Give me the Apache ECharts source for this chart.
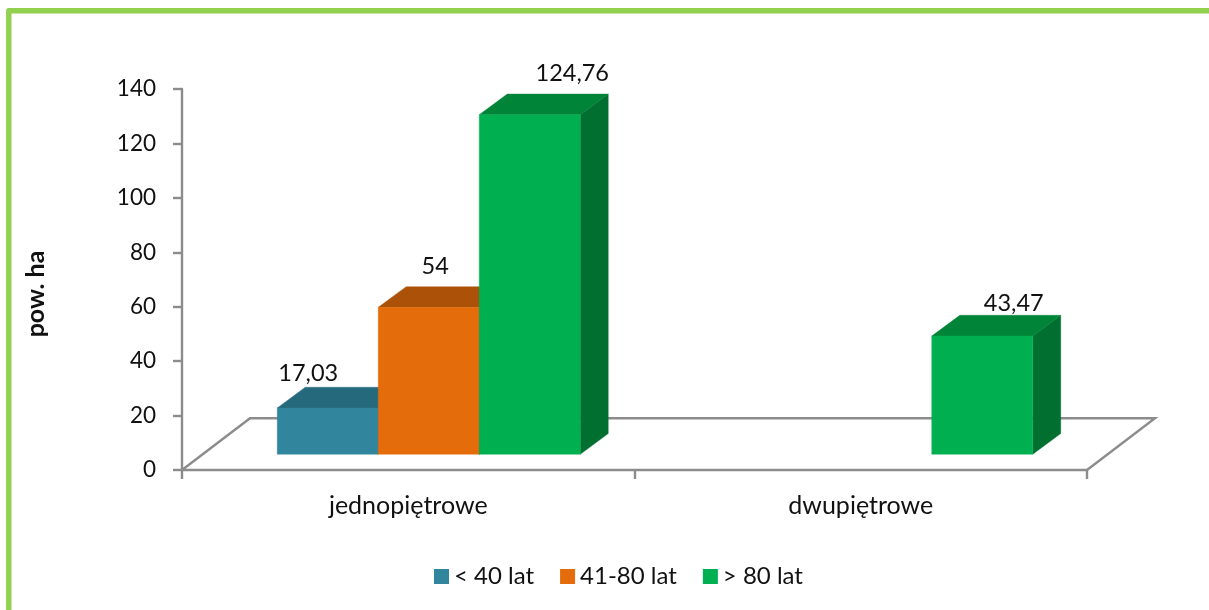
<!DOCTYPE html>
<html>
<head>
<meta charset="utf-8">
<style>html,body{margin:0;padding:0;background:#fff}#c{width:1209px;height:610px}</style>
<script src="https://cdn.jsdelivr.net/npm/echarts@6/dist/echarts.min.js"></script>
</head>
<body>
<div id="c"></div>
<script>
const categories = ['jednopiętrowe', 'dwupiętrowe'];
const seriesNames = ['< 40 lat', '41-80 lat', '> 80 lat'];
const youngValues = [17.03, null];
const middleValues = [54, null];
const oldValues = [124.76, 43.47];
const yTicks = { min: 0, max: 140, interval: 20 };
const yAxisTitle = 'pow. ha';

const FONT = 'Lato, Carlito, Calibri, sans-serif';
const palette = [
  { front: '#31859C', top: '#256A7C', side: '#1F5A6A' },
  { front: '#E46C0A', top: '#AB5108', side: '#8A4207' },
  { front: '#00B050', top: '#008438', side: '#006F30' }
];
const GREY = '#8C8C8C';
const bar = { width: 0.2232, firstLeft: -0.2895 }; // fractions of a category band
const depth = { dx: 28, dy: 20.7, lift: 15.7 };    // oblique projection of the bars
const floor = { dx: 68, dy: 51.7 };
// label nudges from the bar's back-top-left corner, per series/category
const labelNudge = {
  '0-0': [31, -14], '1-0': [57, -20], '2-0': [93, -21], '2-1': [82, -12]
};

function renderBar(seriesIdx) {
  return function (params, api) {
    const v = api.value(1), c = api.value(0);
    if (v == null || isNaN(v)) return;
    const band = api.size([1, 0])[0];
    const center = api.coord([c, 0]);
    const topPt = api.coord([c, v]);
    const x0 = center[0] + band * (bar.firstLeft + bar.width * seriesIdx);
    const x1 = x0 + band * bar.width;
    const yb = center[1] - depth.lift;
    const yt = topPt[1] - depth.lift;
    const dx = depth.dx, dy = depth.dy;
    const col = palette[seriesIdx];
    const n = labelNudge[seriesIdx + '-' + c] || [0, -15];
    const poly = (pts, fill) => ({ type: 'polygon', shape: { points: pts }, style: { fill: fill, stroke: fill, lineWidth: 0.4 } });
    return {
      type: 'group',
      children: [
        poly([[x1, yb], [x1 + dx, yb - dy], [x1 + dx, yt - dy], [x1, yt]], col.side),
        poly([[x0, yt], [x0 + dx, yt - dy], [x1 + dx, yt - dy], [x1, yt]], col.top),
        poly([[x0, yb], [x1, yb], [x1, yt], [x0, yt]], col.front),
        {
          type: 'text',
          z2: 10,
          style: {
            x: x0 + n[0], y: yt - dy + n[1],
            text: String(v).replace('.', ','),
            fill: '#111', font: '23.5px ' + FONT,
            textAlign: 'center', textVerticalAlign: 'middle'
          }
        }
      ]
    };
  };
}

function renderFloor(params, api) {
  const cs = params.coordSys;
  const xl = cs.x, xr = cs.x + cs.width, y = cs.y + cs.height;
  return {
    type: 'polyline',
    shape: { points: [[xl, y], [xl + floor.dx, y - floor.dy], [xr + floor.dx, y - floor.dy], [xr, y]] },
    style: { fill: null, stroke: GREY, lineWidth: 2.4 }
  };
}

const toData = arr => arr.map((v, i) => [i, v]).filter(d => d[1] !== null);

const chart = echarts.init(document.getElementById('c'), null, { renderer: 'canvas' });
chart.setOption({
  animation: false,
  backgroundColor: '#fff',
  grid: { left: 182, right: 122, top: 89, bottom: 140 },
  legend: {
    data: seriesNames,
    left: 434, top: 564.5,
    padding: 0,
    itemWidth: 15, itemHeight: 15, itemGap: 26,
    icon: 'rect',
    selectedMode: false,
    textStyle: { fontFamily: FONT, fontSize: 24, color: '#111' }
  },
  xAxis: {
    type: 'category',
    data: categories,
    boundaryGap: true,
    axisLine: { lineStyle: { color: GREY, width: 2.4 } },
    axisTick: { show: true, length: 9, lineStyle: { color: GREY, width: 2.4 } },
    axisLabel: { fontFamily: FONT, fontSize: 25, color: '#111', margin: 23 }
  },
  yAxis: {
    type: 'value',
    min: yTicks.min, max: yTicks.max, interval: yTicks.interval,
    axisLine: { show: true, lineStyle: { color: GREY, width: 2.4 } },
    axisTick: { show: true, length: 9, lineStyle: { color: GREY, width: 2.4 } },
    splitLine: { show: false },
    axisLabel: { fontFamily: FONT, fontSize: 22.5, color: '#111', margin: 26, padding: [5, 0, 0, 0] }
  },
  graphic: [
    {
      type: 'polyline', silent: true,
      shape: { points: [[8.8, 630], [8.8, 10.8], [1230, 10.8]] },
      style: { fill: null, stroke: '#92D050', lineWidth: 5.4, lineJoin: 'round' }
    },
    {
      type: 'text', silent: true,
      x: 36, y: 294, rotation: Math.PI / 2,
      style: {
        text: yAxisTitle, fill: '#111', font: 'bold 25px ' + FONT,
        textAlign: 'center', textVerticalAlign: 'middle'
      }
    }
  ],
  series: [
    { type: 'custom', name: 'floor', silent: true, z: 1, clip: false, renderItem: renderFloor, data: [[0, 0]], encode: { x: 0, y: 1 } },
    { type: 'custom', name: seriesNames[0], z: 2, clip: false, itemStyle: { color: palette[0].front }, renderItem: renderBar(0), data: toData(youngValues), encode: { x: 0, y: 1 } },
    { type: 'custom', name: seriesNames[1], z: 3, clip: false, itemStyle: { color: palette[1].front }, renderItem: renderBar(1), data: toData(middleValues), encode: { x: 0, y: 1 } },
    { type: 'custom', name: seriesNames[2], z: 4, clip: false, itemStyle: { color: palette[2].front }, renderItem: renderBar(2), data: toData(oldValues), encode: { x: 0, y: 1 } }
  ]
});
</script>
</body>
</html>
